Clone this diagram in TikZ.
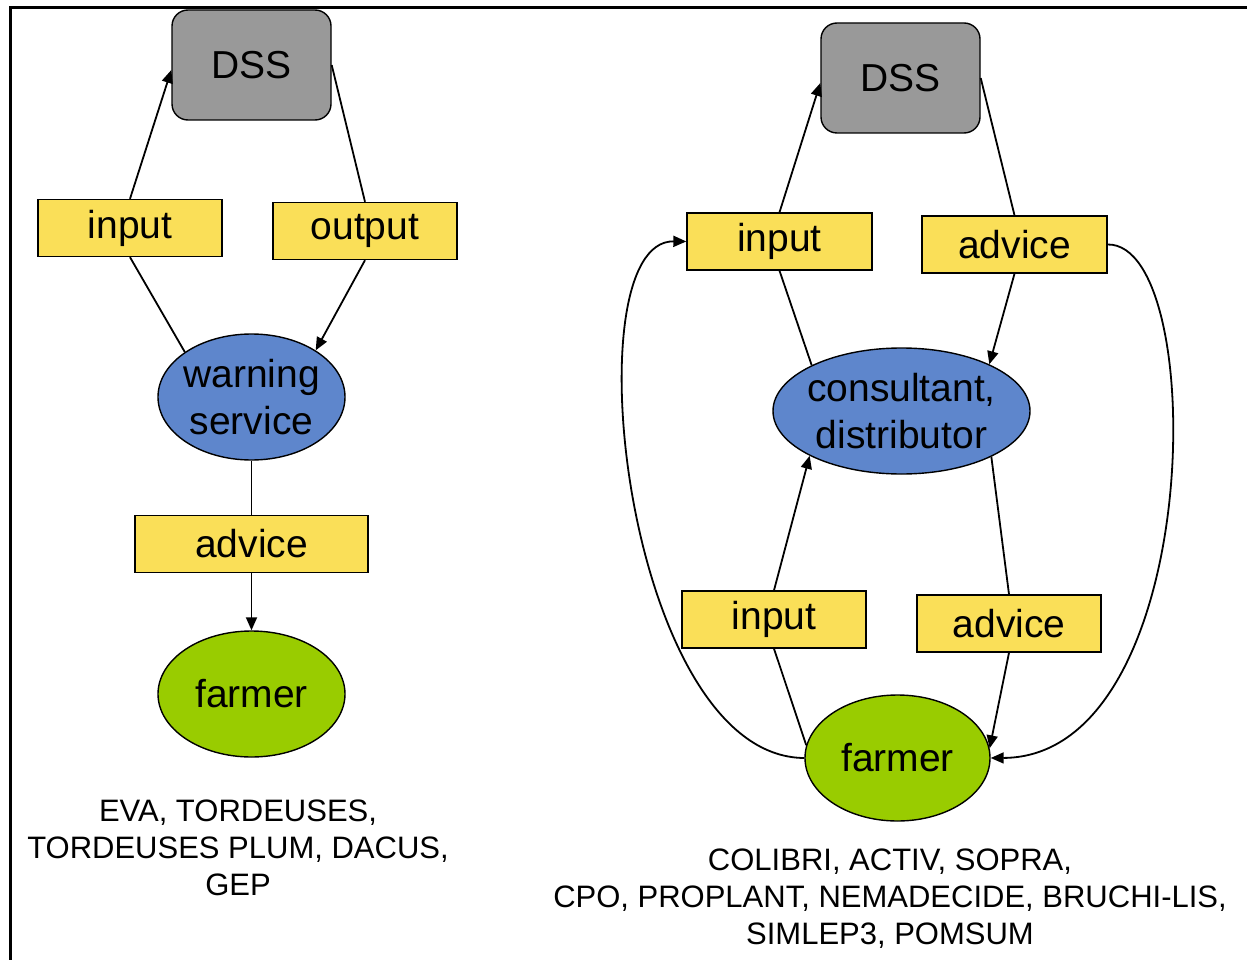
\documentclass[tikz,border=0pt]{standalone}
\usepackage{fontspec}
\setmainfont{Liberation Sans}
\usetikzlibrary{shapes.geometric,arrows.meta}
\definecolor{boxyellow}{RGB}{250,223,88}
\definecolor{ellblue}{RGB}{94,134,204}
\definecolor{ellgreen}{RGB}{153,204,0}
\definecolor{dssgray}{RGB}{153,153,153}
\tikzset{
  dssbox/.style={draw=black,line width=1.4pt,fill=dssgray,rounded corners=16pt,minimum width=159pt,minimum height=110pt,inner sep=0pt,font=\fontsize{39}{47}\selectfont},
  labbox/.style={draw=black,line width=1.4pt,fill=boxyellow,minimum width=184pt,minimum height=57pt,inner sep=0pt,font=\fontsize{39}{47}\selectfont},
  blueell/.style={ellipse,draw=black,line width=1.4pt,fill=ellblue,inner xsep=-30pt,inner ysep=0pt,align=center,font=\fontsize{39}{47}\selectfont},
  greenell/.style={ellipse,draw=black,line width=1.4pt,fill=ellgreen,minimum width=187pt,minimum height=126pt,inner sep=0pt,font=\fontsize{39}{47}\selectfont},
  caption/.style={align=center,inner sep=0pt,font=\fontsize{31}{37}\selectfont},
  conn/.style={line width=1.8pt},
  arr/.style={line width=1.8pt,-{Triangle[length=13pt,width=11pt]}},
}
\begin{document}
\begin{tikzpicture}[x=1pt,y=-1pt]
\useasboundingbox (0,0) rectangle (1247,960);
\draw[line width=3pt] (1247,8) coordinate (ftr) -- (10,8) coordinate (ftl) -- (10,960) coordinate (fbl);

% left diagram
\node[dssbox] (dss1) at (251.5,65) {DSS};
\node[labbox] (in1) at (130,228) {input};
\node[labbox] (out1) at (365,231) {output};
\node[blueell,minimum width=187pt,minimum height=126pt] (ws) at (251.5,397) {warning\\service};
\node[labbox,minimum width=233pt] (adv1) at (251.5,544) {advice};
\node[greenell] (f1) at (251.5,694) {farmer};
\node[caption] (cap1) at (238,848) {EVA, TORDEUSES,\\TORDEUSES PLUM, DACUS,\\GEP};

\draw[arr] (in1.north) -- ([yshift=-5pt]dss1.west);
\draw[conn] (ws.146) -- (in1.south);
\draw[conn] (dss1.east) -- (out1.north);
\draw[arr] (out1.south) -- (ws.36);
\draw[conn] (ws.south) -- (adv1.north);
\draw[arr] (adv1.south) -- (f1.north);

% right diagram
\node[dssbox] (dss2) at (900.5,78) {DSS};
\node[labbox,minimum width=185pt] (in2) at (779.5,241.5) {input};
\node[labbox,minimum width=185pt] (adv2) at (1014.5,244.5) {advice};
\node[blueell,minimum width=257pt,minimum height=126pt] (cons) at (901.5,411) {consultant,\\distributor};
\node[labbox] (in3) at (774,619.5) {input};
\node[labbox] (adv3) at (1009,623.5) {advice};
\node[greenell,minimum width=185pt] (f2) at (897.5,758) {farmer};
\node[caption] (cap2) at (890,899) {COLIBRI, ACTIV, SOPRA,\\CPO, PROPLANT, NEMADECIDE, BRUCHI-LIS,\\SIMLEP3, POMSUM};

\draw[arr] (in2.north) -- ([yshift=-5pt]dss2.west);
\draw[conn] (cons.153) -- (in2.south);
\draw[conn] (dss2.east) -- (adv2.north);
\draw[arr] (adv2.south) -- (cons.28);
\draw[arr] (in3.north) -- (cons.206);
\draw[conn] (f2.172) -- (in3.south);
\draw[conn] (cons.333) -- (adv3.north);
\draw[arr] (adv3.south) -- (f2.6);
\draw[arr] (f2.west) .. controls (625,757) and (570,240) .. (in2.west);
\draw[arr] (adv2.east) .. controls (1210,243) and (1205,757) .. (f2.east);
\end{tikzpicture}
\end{document}
